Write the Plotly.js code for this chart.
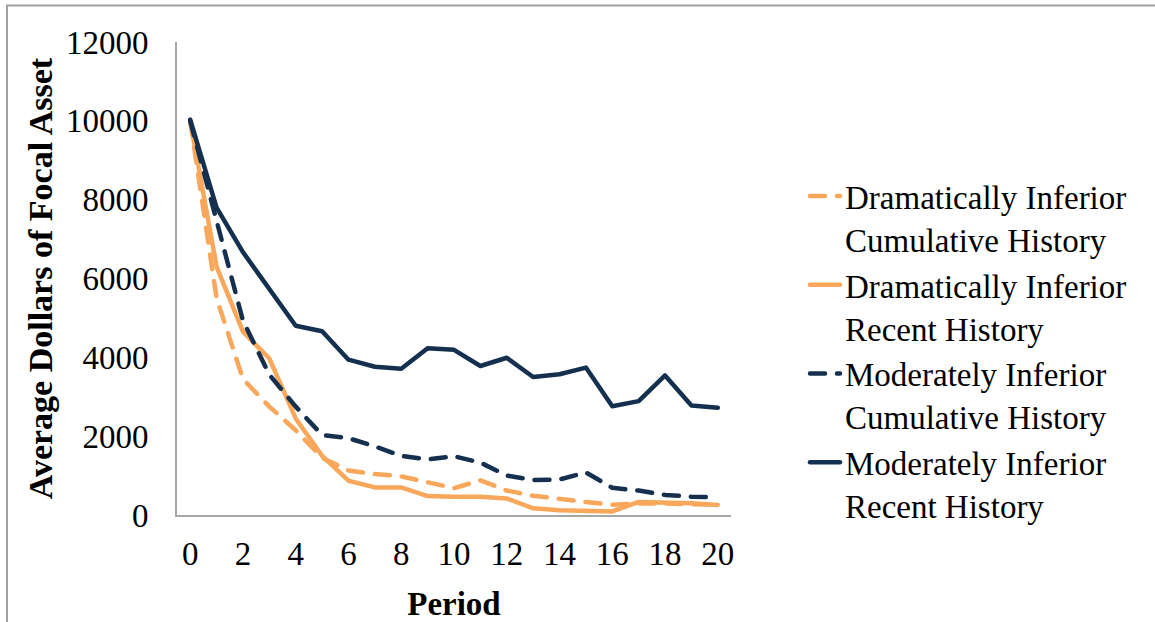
<!DOCTYPE html>
<html>
<head>
<meta charset="utf-8">
<script src="https://cdn.plot.ly/plotly-3.0.1.min.js"></script>
<style>
  html, body { margin: 0; padding: 0; background: #ffffff; }
  #chart { width: 1155px; height: 622px; }
  .js-line { stroke-linecap: round; stroke-linejoin: round; }
</style>
</head>
<body>
<div id="chart"></div>
<script>
// Average dollars of the focal asset per period, by condition
const periods = [0, 1, 2, 3, 4, 5, 6, 7, 8, 9, 10, 11, 12, 13, 14, 15, 16, 17, 18, 19, 20];
const dramaticCumulative = [10000, 5500, 3450, 2750, 2150, 1450, 1130, 1040, 980, 830, 680, 880, 620, 490, 400, 330, 260, 290, 290, 280, 260];
const dramaticRecent = [10000, 6300, 4650, 3970, 2450, 1500, 870, 700, 700, 480, 465, 465, 420, 170, 120, 100, 90, 330, 320, 295, 255];
const moderateCumulative = [10000, 7500, 4930, 3560, 2750, 2030, 1950, 1740, 1500, 1410, 1490, 1330, 1000, 890, 900, 1080, 690, 620, 510, 465, 450];
const moderateRecent = [10030, 7800, 6670, 5750, 4800, 4660, 3940, 3760, 3710, 4230, 4190, 3780, 3990, 3500, 3570, 3740, 2760, 2890, 3540, 2780, 2720];

const seriesNames = [
  'Dramatically Inferior<br>Cumulative History',
  'Dramatically Inferior<br>Recent History',
  'Moderately Inferior<br>Cumulative History',
  'Moderately Inferior<br>Recent History'
];
const xTicks = [0, 2, 4, 6, 8, 10, 12, 14, 16, 18, 20];
const yTicks = [0, 2000, 4000, 6000, 8000, 10000, 12000];

const ORANGE = '#f9a75a';
const NAVY = '#15304f';
const DASH = '15px,12px';
const LW = 4.5;
const FONT = 'Liberation Serif, Times New Roman, serif';

function series(y, name, color, dash) {
  return {
    type: 'scatter',
    mode: 'lines',
    x: periods,
    y: y,
    name: name,
    line: { color: color, width: LW, dash: dash },
    hoverinfo: 'x+y'
  };
}

const data = [
  series(dramaticCumulative, seriesNames[0], ORANGE, DASH),
  series(dramaticRecent, seriesNames[1], ORANGE, 'solid'),
  series(moderateCumulative, seriesNames[2], NAVY, DASH),
  series(moderateRecent, seriesNames[3], NAVY, 'solid')
];

// plot area spans 177..731 px horizontally, 42..515 px vertically
const L = 177, R = 731, T = 42, B = 515;
const px = v => (v - L) / (R - L);
const py = v => (B - v) / (B - T);

const layout = {
  width: 1155,
  height: 622,
  margin: { l: L, r: 1155 - R, t: T, b: 622 - B },
  paper_bgcolor: '#ffffff',
  plot_bgcolor: '#ffffff',
  font: { family: FONT, color: '#000000', size: 33 },
  showlegend: true,
  legend: {
    x: px(805), y: py(168), xanchor: 'left', yanchor: 'top',
    font: { family: FONT, size: 33, color: '#000000' },
    valign: 'top',
    bgcolor: 'rgba(0,0,0,0)',
    tracegroupgap: 0
  },
  xaxis: {
    range: [-0.5, 20.5],
    tickmode: 'array',
    tickvals: xTicks,
    ticktext: xTicks.map(String),
    showgrid: false,
    zeroline: false,
    showline: true,
    linecolor: '#a6a6a6',
    linewidth: 2,
    ticks: '',
    ticklabelstandoff: 8,
    tickfont: { family: FONT, size: 33, color: '#000000' },
    title: { text: '<b>Period</b>', font: { family: FONT, size: 33, color: '#000000' }, standoff: 26 },
    fixedrange: true
  },
  yaxis: {
    range: [0, 12000],
    tickmode: 'array',
    tickvals: yTicks,
    ticktext: yTicks.map(String),
    showgrid: false,
    zeroline: false,
    showline: true,
    linecolor: '#a6a6a6',
    linewidth: 2,
    ticks: '',
    ticklabelstandoff: 20,
    tickfont: { family: FONT, size: 33, color: '#000000' },
    title: { text: '<b>Average Dollars of Focal Asset</b>', font: { family: FONT, size: 34, color: '#000000' }, standoff: 3 },
    fixedrange: true
  },
  shapes: [
    {
      // chart frame: left and top edges
      type: 'path', xref: 'paper', yref: 'paper',
      path: `M ${px(7)} ${py(640)} L ${px(7)} ${py(5.5)} L ${px(1170)} ${py(5.5)}`,
      line: { color: '#a0a0a0', width: 2 }
    }
  ]
};

Plotly.newPlot('chart', data, layout, { displayModeBar: false, staticPlot: true });
</script>
</body>
</html>
